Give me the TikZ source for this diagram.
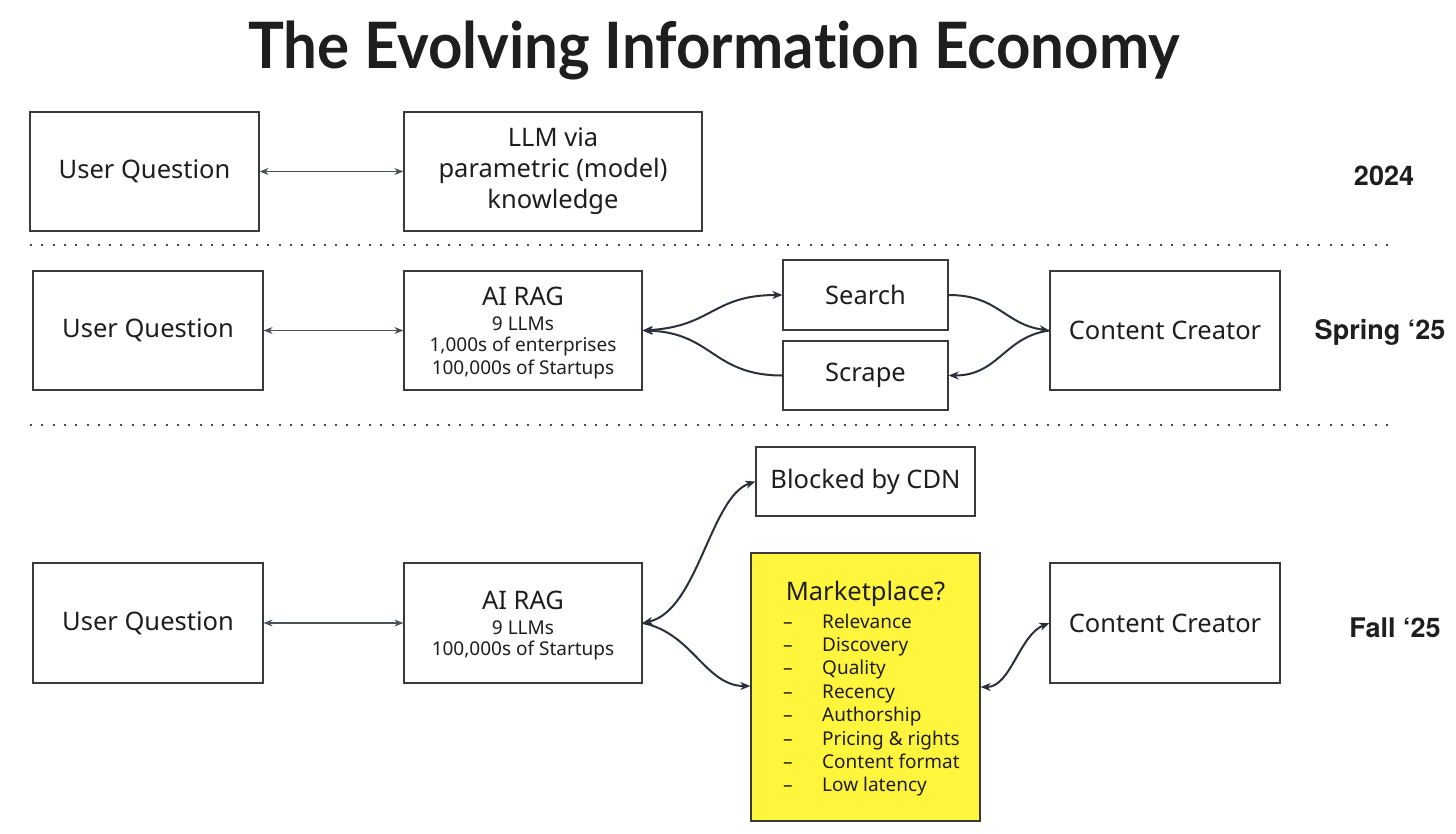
\documentclass[tikz,border=0pt]{standalone}
\usepackage{fontspec}
\usepackage{graphicx}
\setmainfont{Noto Sans}
\newfontfamily\headfont{TeX Gyre Heros}
\newfontfamily\titlefont{Lato}[Ligatures=NoCommon]
\usetikzlibrary{arrows.meta}
\definecolor{ink}{HTML}{1E1E1E}
\definecolor{arr}{HTML}{2B303B}
\definecolor{mkt}{HTML}{FFF53C}
\definecolor{frame}{HTML}{3A3A3A}
\begin{document}
\begin{tikzpicture}[x=1pt,y=-1pt,
  box/.style={draw=frame, line width=1.2pt, text=ink, align=center, inner sep=0pt,
    font=\fontsize{25.5}{31}\selectfont},
  big/.style={text=ink, inner sep=0pt, font=\fontsize{25.5}{31}\selectfont},
  small/.style={font=\fontsize{19}{23}\selectfont, text=ink, inner sep=0pt},
  thin/.style={draw=arr!85, line width=1.1pt, {Stealth[length=9pt,width=7pt]}-{Stealth[length=9pt,width=7pt]}},
  curve/.style={draw=arr, line width=2pt},
  tip/.tip={Stealth[length=10pt,width=8pt,inset=3pt]},
  era/.style={font=\headfont\bfseries\fontsize{27}{30}\selectfont, text=ink, inner sep=0pt},
  dots/.style={draw=ink!80, line width=2pt, dash pattern=on 2pt off 9.3pt},
  item/.style={font=\fontsize{19}{23}\selectfont, text=ink, inner sep=0pt, anchor=base west}
]
\useasboundingbox (0,0) rectangle (1456,833);
\fill[white] (0,0) rectangle (1456,833);

% title
\node[text=ink, inner sep=0pt] (title) at (714,50)
  {\resizebox{932pt}{\height}{\titlefont\bfseries\fontsize{64}{70}\selectfont The Evolving Informa\mbox{t}ion Economy}};

% row 1
\node[box, minimum width=229pt, minimum height=119pt] (uq1) at (144.5,171.5) {User Question};
\node[box, minimum width=298pt, minimum height=119pt] (llm) at (553,171.5) {LLM via\\parametric (model)\\knowledge};
\draw[thin] (uq1.east) -- (llm.west);
\node[era] (y2024) at (1384,176) {2024};

\draw[dots] (30,245) coordinate (d1a) -- (1390,245) coordinate (d1b);

% row 2
\node[box, minimum width=230pt, minimum height=119pt] (uq2) at (148,330.5) {User Question};
\node[box, minimum width=238pt, minimum height=119pt] (rag2) at (523,330.5) {};
\node[big] (rag2t) at (523,296) {AI RAG};
\node[small] (rag2a) at (523,324) {9 LLMs};
\node[small] (rag2b) at (523,347) {1,000s of enterprises};
\node[small] (rag2c) at (523,370) {100,000s of Startups};
\node[box, minimum width=165pt, minimum height=70pt] (search) at (865.5,295) {Search};
\node[box, minimum width=165pt, minimum height=69pt] (scrape) at (865.5,375.5) {Scrape};
\node[box, minimum width=230pt, minimum height=119pt] (cc2) at (1165,330.5) {Content Creator};
\node[era] (spring) at (1380,332) {Spring ‘25};

\draw[thin] (uq2.east) -- (rag2.west);
\draw[curve, tip-tip] (rag2.east) .. controls +(70,-4) and +(-70,0) .. (search.west);
\draw[curve, -tip] (scrape.west) .. controls +(-70,0) and +(70,2) .. (rag2.east);
\draw[curve, -tip] (search.east) .. controls +(50,0) and +(-45,-6) .. (cc2.west);
\draw[curve, -tip] (cc2.west) .. controls +(-45,6) and +(50,0) .. (scrape.east);

\draw[dots] (30,425) coordinate (d2a) -- (1390,425) coordinate (d2b);

% row 3
\node[box, minimum width=230pt, minimum height=120pt] (uq3) at (148,623) {User Question};
\node[box, minimum width=238pt, minimum height=120pt] (rag3) at (523,623) {};
\node[big] (rag3t) at (523,600) {AI RAG};
\node[small] (rag3a) at (523,628) {9 LLMs};
\node[small] (rag3b) at (523,651) {100,000s of Startups};
\node[box, minimum width=219pt, minimum height=69pt] (blocked) at (865.5,481.5) {Blocked by CDN};
\node[box, fill=mkt, minimum width=229pt, minimum height=268pt] (mkt) at (865.5,687) {};
\node[big] (mktt) at (865.5,594) {Marketplace?};
\foreach \t [count=\i] in {Relevance,Discovery,Quality,Recency,Authorship,Pricing \& rights,Content format,Low latency}{
  \node[item] (mi\i) at (822,{628+(\i-1)*23.4}) {\t};
  \node[item] (md\i) at (783,{628+(\i-1)*23.4}) {–};
}
\node[box, minimum width=230pt, minimum height=120pt] (cc3) at (1165,623) {Content Creator};
\node[era] (fall) at (1395,628) {Fall ‘25};

\draw[thin] (uq3.east) -- (rag3.west);
\draw[curve, tip-tip] (rag3.east) .. controls +(55,-12) and +(-45,15) .. (blocked.west);
\draw[curve, -tip] (rag3.east) .. controls +(50,10) and +(-45,0) .. (mkt.west |- 0,686);
\draw[curve, tip-tip] (mkt.east) .. controls +(30,0) and +(-30,12) .. (cc3.west);
\end{tikzpicture}
\end{document}
